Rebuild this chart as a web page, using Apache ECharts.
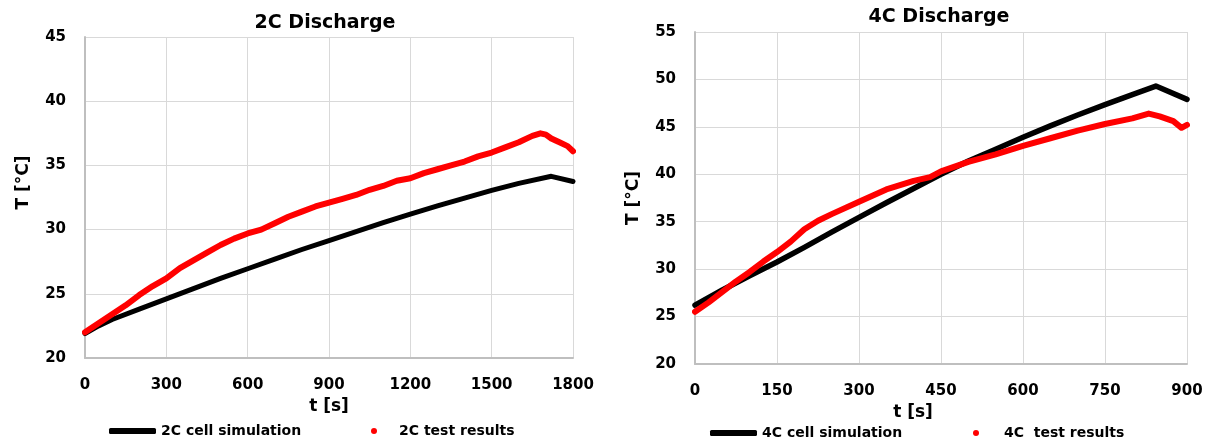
<!DOCTYPE html>
<html>
<head>
<meta charset="utf-8">
<script src="https://cdn.jsdelivr.net/npm/echarts@6/dist/echarts.min.js"></script>
<style>
html,body{margin:0;padding:0;background:#fff;}
#chart{width:1210px;height:445px;}
</style>
</head>
<body>
<div id="chart"></div>
<script>
// ---- Data ----
const sim2C_t = [0, 50, 100, 200, 300, 400, 500, 600, 700, 800, 900, 1000, 1100, 1200, 1300, 1400, 1500, 1600, 1720, 1800];
const sim2C_T = [21.9, 22.5, 23.0, 23.8, 24.6, 25.4, 26.2, 26.95, 27.7, 28.45, 29.15, 29.85, 30.55, 31.2, 31.85, 32.45, 33.05, 33.6, 34.15, 33.75];

const test2C_t = [0, 50, 100, 150, 200, 250, 300, 350, 400, 450, 500, 550, 600, 650, 700, 750, 800, 850, 900, 950, 1000, 1050, 1100, 1150, 1200, 1250, 1300, 1350, 1400, 1450, 1500, 1550, 1600, 1650, 1680, 1700, 1720, 1750, 1780, 1800];
const test2C_T = [22.0, 22.7, 23.4, 24.1, 24.9, 25.6, 26.2, 27.0, 27.6, 28.2, 28.8, 29.3, 29.7, 30.0, 30.5, 31.0, 31.4, 31.8, 32.1, 32.4, 32.7, 33.1, 33.4, 33.8, 34.0, 34.4, 34.7, 35.0, 35.3, 35.7, 36.0, 36.4, 36.8, 37.3, 37.5, 37.4, 37.1, 36.8, 36.5, 36.1];

const sim4C_t = [0, 50, 100, 150, 200, 250, 300, 350, 400, 450, 500, 550, 600, 650, 700, 750, 800, 843, 900];
const sim4C_T = [26.2, 27.8, 29.3, 30.75, 32.3, 33.9, 35.45, 37.0, 38.5, 40.0, 41.4, 42.65, 43.9, 45.1, 46.25, 47.35, 48.4, 49.3, 47.9];

const test4C_t = [0, 25, 50, 75, 100, 125, 150, 175, 200, 225, 250, 300, 350, 400, 430, 450, 500, 550, 600, 650, 700, 750, 800, 830, 850, 875, 890, 900];
const test4C_T = [25.5, 26.5, 27.6, 28.7, 29.7, 30.8, 31.8, 32.9, 34.2, 35.1, 35.8, 37.1, 38.4, 39.3, 39.7, 40.3, 41.3, 42.1, 43.0, 43.8, 44.6, 45.3, 45.9, 46.4, 46.1, 45.6, 44.9, 45.2];

const titles = ['2C Discharge', '4C Discharge'];
const seriesNames = ['2C cell simulation', '2C test results', '4C cell simulation', '4C  test results'];
const xName = 't [s]';
const yName = 'T [°C]';

function pairs(xs, ys) { return xs.map((x, i) => [x, ys[i]]); }

const FONT = '"DejaVu Sans"';
const gridColor = '#d9d9d9';
const axisColor = '#bfbfbf';

function xAxisCfg(gridIndex, max, interval, namePad) {
  return {
    type: 'value', gridIndex, min: 0, max, interval,
    name: xName, nameLocation: 'middle', nameGap: 33,
    nameTextStyle: { fontFamily: FONT, fontWeight: 'bold', fontSize: 17, color: '#000', padding: namePad },
    axisLine: { show: true, onZero: false, lineStyle: { color: axisColor, width: 2 } },
    axisTick: { show: false },
    axisLabel: { fontFamily: FONT, fontWeight: 'bold', fontSize: 15, color: '#000', margin: 20,
      formatter: v => String(v) },
    splitLine: { show: true, lineStyle: { color: gridColor, width: 1 } }
  };
}
function yAxisCfg(gridIndex, min, max, namePad, nameGap) {
  return {
    type: 'value', gridIndex, min, max, interval: 5,
    name: yName, nameLocation: 'middle', nameGap,
    nameTextStyle: { fontFamily: FONT, fontWeight: 'bold', fontSize: 17, color: '#000', padding: namePad },
    axisLine: { show: true, onZero: false, lineStyle: { color: axisColor, width: 2 } },
    axisTick: { show: false },
    axisLabel: { fontFamily: FONT, fontWeight: 'bold', fontSize: 15, color: '#000', margin: 19,
      formatter: v => String(v) },
    splitLine: { show: true, lineStyle: { color: gridColor, width: 1 } }
  };
}

const legendText = { fontFamily: FONT, fontWeight: 'bold', fontSize: 14, color: '#000' };

const chart = echarts.init(document.getElementById('chart'), null, { renderer: 'canvas' });
chart.setOption({
  backgroundColor: '#ffffff',
  animation: false,
  title: [
    { text: titles[0], left: 320, top: 9, textAlign: 'center',
      textStyle: { fontFamily: FONT, fontWeight: 'bold', fontSize: 19, color: '#000' } },
    { text: titles[1], left: 934, top: 3, textAlign: 'center',
      textStyle: { fontFamily: FONT, fontWeight: 'bold', fontSize: 19, color: '#000' } }
  ],
  grid: [
    { left: 85, top: 37, width: 488, height: 321, containLabel: false },
    { left: 695, top: 32, width: 492, height: 332, containLabel: false }
  ],
  xAxis: [xAxisCfg(0, 1800, 300, [0, 0, 0, 0]), xAxisCfg(1, 900, 150, [0, 56, 0, 0])],
  yAxis: [yAxisCfg(0, 20, 45, [0, 0, 0, 30], 53), yAxisCfg(1, 20, 55, [0, 0, 0, 0], 53)],
  legend: [
    { data: [{ name: seriesNames[0], icon: 'roundRect' }], left: 109, top: 424, itemWidth: 47, itemHeight: 6, textStyle: legendText, padding: 0 },
    { data: [{ name: seriesNames[1], icon: 'circle' }], left: 371, top: 424, itemWidth: 6, itemHeight: 6,
      textStyle: Object.assign({}, legendText, { padding: [0, 0, 0, 17] }), padding: 0 },
    { data: [{ name: seriesNames[2], icon: 'roundRect' }], left: 710, top: 426, itemWidth: 47, itemHeight: 6, textStyle: legendText, padding: 0 },
    { data: [{ name: seriesNames[3], icon: 'circle' }], left: 973, top: 426, itemWidth: 6, itemHeight: 6,
      textStyle: Object.assign({}, legendText, { padding: [0, 0, 0, 20] }), padding: 0 }
  ],
  series: [
    { name: seriesNames[0], type: 'line', xAxisIndex: 0, yAxisIndex: 0, data: pairs(sim2C_t, sim2C_T),
      showSymbol: false, symbol: 'none', color: '#000000', lineStyle: { width: 5, color: '#000000', cap: 'round', join: 'round' }, z: 2 },
    { name: seriesNames[1], type: 'line', xAxisIndex: 0, yAxisIndex: 0, data: pairs(test2C_t, test2C_T),
      showSymbol: false, symbol: 'none', color: '#ff0000', lineStyle: { width: 6, color: '#ff0000', cap: 'round', join: 'round' }, z: 3 },
    { name: seriesNames[2], type: 'line', xAxisIndex: 1, yAxisIndex: 1, data: pairs(sim4C_t, sim4C_T),
      showSymbol: false, symbol: 'none', color: '#000000', lineStyle: { width: 5.5, color: '#000000', cap: 'round', join: 'round' }, z: 2 },
    { name: seriesNames[3], type: 'line', xAxisIndex: 1, yAxisIndex: 1, data: pairs(test4C_t, test4C_T),
      showSymbol: false, symbol: 'none', color: '#ff0000', lineStyle: { width: 6, color: '#ff0000', cap: 'round', join: 'round' }, z: 3 }
  ]
});
</script>
</body>
</html>
